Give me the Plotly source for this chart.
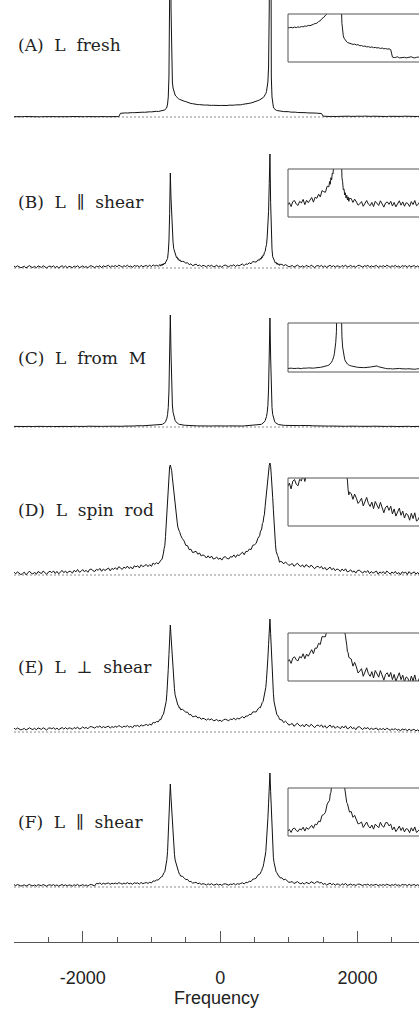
import numpy as np
import plotly.graph_objects as go

# Frequency sampling (Hz): 25 Hz steps, refined to 10 Hz across the two horns
freq = np.concatenate([
    np.arange(-3000, -899, 25),
    np.arange(-875, -574, 10),
    np.arange(-550, 551, 25),
    np.arange(575, 876, 10),
    np.arange(900, 2901, 25),
])

# Intensities (a.u.) for each sample
spec_a = [
    3, 2, 3, 4, 2, 3, 5, 4, 3, 2, 3, 4, 3, 5, 4, 2, 3, 4, 3, 3, 5, 4, 2, 3, 4, 3, 2, 1, 2, 3,
    4, 2, 3, 5, 4, 3, 4, 3, 2, 4, 5, 3, 4, 3, 2, 3, 4, 5, 4, 3, 4, 6, 5, 4, 3, 4, 5, 4, 3, 5, 6, 4,
    37, 40, 39, 41, 40, 43, 41, 44, 43, 45, 44, 47, 45, 48, 47, 50, 49, 52, 51, 54, 53, 57, 55,
    57, 60, 59, 62, 64, 65, 69, 72, 78, 85, 100, 130, 200, 400, 1200, 6000, 1100, 500, 350, 290,
    256, 235, 220, 209, 200, 193, 187, 182, 178, 174, 171,
    166, 158, 154, 146, 142, 135, 133, 128, 127, 124, 124, 121, 122, 119, 120, 117, 118, 116, 117, 115,
    116, 114, 115,
    116, 114, 117, 115, 118, 116, 119, 118, 121, 120, 123, 122, 126, 127, 130, 131, 137, 140, 148, 152,
    160, 164,
    171, 174, 178, 182, 187, 193, 200, 209, 220, 235, 256, 290, 350, 500, 1100, 6000, 1200, 400, 200, 130,
    100, 85, 77, 72, 68, 65, 63, 61, 60, 59, 58,
    57, 54, 55, 52, 53, 49, 50, 47, 48, 45, 46, 43, 45, 42, 43, 41, 42, 39, 41, 38, 39, 37, 38, 35,
    8, 6, 7, 9, 5, 6, 8, 7, 5, 6, 7, 9, 6, 5, 7, 8, 6, 4, 6, 7, 8, 6, 5, 7, 9, 7, 6, 5, 6, 8,
    7, 5, 6, 7, 8, 6, 4, 5, 7, 6, 8, 7, 5, 6, 7, 5, 6, 8, 7, 6, 5, 7, 6, 8, 6, 5, 7,
]

spec_b = [
    20, 8, 22, 14, 3, 9, 18, 1, 15, 24, 11, 5, 17, 2, 21, 13, 6, 23, 8, 0,
    15, 19, 10, 21, 4, 17, 1, 11, 23, 7, 19, 3, 16, 13, 2, 20, 9, 24, 5, 10,
    21, 7, 15, 1, 19, 22, 9, 4, 18, 11, 23, 3, 23, 12, 20, 27, 7, 22, 14, 25,
    11, 29, 19, 9, 23, 15, 28, 11, 21, 6, 26, 17, 24, 8, 27, 13, 19, 25, 14, 28,
    14, 31, 19, 27, 18,
    34, 19, 36, 25, 41, 30, 49, 40, 58, 55, 81, 95, 158, 270, 545, 950, 700, 470, 322, 258,
    193, 172, 135, 131, 104, 109, 86, 92, 73, 82, 66,
    66, 63, 48, 54, 33, 42, 23, 30, 39, 21, 31, 14, 26, 22, 10, 27, 16, 30, 11, 16, 27, 13, 21,
    7, 25, 29, 16, 11, 26, 20, 33, 14, 30, 21, 31, 40, 23, 41, 37, 52, 42, 65, 61, 59, 81,
    79, 98, 88, 112, 104, 129, 126, 158, 163, 207, 233, 308, 392, 566, 845, 1140, 655, 322, 187, 112,
    97, 68, 71, 49, 57, 38, 48, 31, 42, 26, 37,
    36, 22, 34, 24, 12, 17, 25, 8, 21, 29, 16, 10, 22, 7, 26, 18, 11, 28, 13, 5,
    20, 24, 15, 26, 9, 22, 6, 16, 28, 12, 24, 8, 21, 18, 7, 25, 14, 29, 10, 15,
    26, 12, 20, 6, 24, 27, 14, 9, 23, 16, 28, 8, 22, 11, 19, 26, 6, 21, 13, 24,
    10, 28, 18, 8, 22, 14, 27, 10, 20, 5, 25, 16, 23, 7, 26, 12, 18, 24, 9, 21, 6,
]

spec_c = [
    6, 5, 7, 6, 4, 6, 7, 5, 6, 8, 6, 5, 6, 7, 5, 4, 6, 7, 6, 5, 7, 8, 6, 5, 6, 7, 5, 6, 4, 6,
    7, 6, 5, 7, 6, 8, 7, 6, 5, 6, 7, 5, 6, 8, 7, 6, 5, 7, 6, 7, 8, 6, 7, 5, 6, 7, 8, 7, 6, 8,
    7, 6, 8, 7, 9, 8, 7, 8, 9, 8,
    10, 12, 14, 15, 13, 12, 13, 12, 13, 14, 14, 15, 16, 17, 19,
    21, 22, 24, 26, 29, 32, 37, 43, 52, 66, 88, 125, 195, 360, 700, 1120, 740, 390, 220, 148,
    108, 82, 66, 53, 45, 39, 34, 30, 27, 25, 23,
    20, 18, 17, 15, 14, 13, 12, 11, 12, 11, 10, 11, 10, 9, 11, 10, 9, 10, 11, 10, 9, 10, 10,
    11, 10, 9, 10, 11, 10, 9, 11, 10, 11, 12, 11, 10, 11, 12, 12, 13, 14, 15, 16, 18, 20,
    22, 24, 26, 29, 33, 38, 44, 52, 64, 80, 105, 145, 215, 380, 720, 1090, 700, 360, 195, 125,
    88, 66, 52, 43, 37, 32, 29, 26, 24, 22, 21,
    19, 17, 16, 15, 14, 13, 13, 13, 13, 13, 14, 15, 16, 17, 18, 19,
    16, 14, 12, 11, 10, 9, 10, 9, 8, 9, 8, 9, 10, 9, 8, 7, 8, 9, 8, 7,
    8, 7, 8, 9, 7, 8, 6, 7, 8, 7, 6, 7, 8, 6, 7, 6, 7, 8, 7, 6,
    5, 6, 7, 6, 5, 6, 7, 5, 6, 7, 6, 5, 6, 7, 5, 6, 5, 6, 7, 5, 6, 5, 6, 7, 6,
]

spec_d = [
    29, 11, 32, 21, 4, 14, 28, 2, 25, 38, 18, 10, 28, 7, 35, 24, 14, 40, 18, 7,
    29, 37, 23, 41, 15, 36, 12, 28, 46, 23, 40, 18, 38, 35, 19, 47, 31, 55, 28, 36,
    54, 33, 47, 27, 55, 60, 42, 35, 57, 47, 66, 37, 60, 45, 59, 70, 42, 66, 56, 73,
    54, 83, 70, 56, 79, 67, 89, 65, 81, 60, 92, 81, 93, 71, 102, 83, 93, 105, 84, 104,
    87, 120, 107, 123, 111,
    140, 156, 154, 157, 182, 219, 264, 294, 385, 490, 648, 774, 905, 995, 1084, 1100,
    1072, 1043, 972, 909, 825, 730, 652, 611, 574, 528, 479, 445, 438, 425, 398,
    364, 341, 297, 294, 253, 258, 224, 229, 237, 208, 220, 190, 201, 192, 170, 192, 170, 190, 160, 165,
    180, 157, 170,
    149, 177, 183, 166, 160, 184, 178, 201, 176, 202, 194, 213, 228, 203, 236, 234, 260, 254, 297, 302,
    317, 368,
    392, 432, 450, 460, 514, 526, 579, 607, 686, 760, 823, 925, 994, 1068, 1096, 1120,
    1086, 992, 910, 775, 652, 491, 395, 308, 238, 204, 196, 181, 146, 127, 137,
    132, 111, 130, 115, 96, 104, 115, 87, 107, 118, 96, 85, 101, 77, 103, 89, 77, 100, 76, 62,
    82, 87, 71, 86, 58, 76, 50, 63, 79, 53, 68, 43, 60, 54, 35, 60, 41, 62, 32, 37,
    52, 29, 41, 19, 45, 48, 28, 19, 39, 27, 44, 14, 34, 18, 29, 39, 8, 31, 18, 34,
    12, 40, 25, 9, 30, 17, 36, 11, 25, 3, 32, 19, 29, 5, 34, 13, 21, 31, 8, 26, 4,
]

spec_e = [
    38, 26, 40, 32, 21, 27, 36, 19, 33, 42, 31, 25, 37, 22, 41, 33, 26, 43, 28, 20,
    37, 41, 32, 43, 26, 39, 23, 33, 45, 29, 44, 28, 41, 38, 27, 45, 34, 49, 30, 35,
    51, 37, 46, 32, 51, 55, 43, 39, 54, 48, 61, 41, 55, 44, 52, 59, 39, 54, 46, 57,
    47, 65, 55, 45, 59, 51, 64, 47, 57, 42, 66, 58, 66, 52, 72, 60, 68, 76, 64, 79,
    69, 97, 91, 105, 102,
    128, 122, 147, 150, 172, 176, 208, 221, 268, 305, 386, 476, 626, 774, 935, 1070,
    962, 842, 688, 586, 490, 432, 372, 348, 305, 302, 268, 266, 240, 244, 222,
    228, 217, 198, 199, 172, 175, 152, 155, 161, 140, 147, 127, 137, 131, 118, 133, 120, 133, 113, 116,
    125, 110, 118,
    104, 123, 128, 117, 113, 129, 124, 139, 121, 138, 130, 142, 154, 139, 160, 159, 177, 173, 201, 201,
    201, 230,
    248, 242, 268, 271, 298, 305, 338, 352, 410, 446, 528, 604, 738, 875, 1025, 1130,
    985, 792, 628, 474, 386, 302, 268, 218, 206, 174, 170, 146, 144, 126, 124,
    120, 94, 108, 91, 69, 76, 85, 57, 77, 88, 67, 57, 74, 51, 78, 65, 54, 78, 56, 43,
    64, 70, 55, 71, 45, 64, 39, 53, 70, 45, 61, 37, 55, 50, 32, 58, 40, 62, 33, 39,
    56, 33, 45, 23, 49, 53, 33, 24, 44, 33, 45, 24, 38, 26, 33, 40, 19, 34, 25, 35,
    21, 38, 28, 17, 31, 22, 35, 17, 27, 11, 31, 21, 28, 11, 30, 15, 21, 26, 11, 22, 7,
]

spec_f = [
    23, 14, 25, 19, 10, 15, 22, 9, 20, 26, 16, 12, 21, 9, 23, 17, 13, 25, 14, 8,
    19, 22, 15, 24, 11, 21, 9, 17, 25, 13, 22, 11, 20, 18, 9, 23, 14, 26, 12, 15,
    24, 13, 20, 9, 22, 25, 15, 11, 37, 32, 41, 26, 38, 29, 36, 40, 27, 38, 32, 40,
    30, 43, 36, 29, 39, 32, 44, 31, 38, 27, 42, 36, 41, 29, 45, 34, 39, 45, 36, 47,
    40, 61, 58, 70, 70,
    90, 87, 103, 102, 120, 122, 146, 152, 186, 206, 274, 356, 504, 665, 864, 1030,
    896, 760, 606, 490, 392, 328, 270, 244, 202, 189, 160, 152, 131, 127, 109,
    107, 93, 73, 77, 54, 56, 39, 43, 47, 32, 39, 26, 33, 29, 19, 32, 22, 34, 20, 22,
    31, 20, 27,
    16, 29, 32, 23, 19, 29, 25, 35, 21, 34, 27, 36, 42, 31, 46, 44, 57, 55, 78, 81,
    89, 119,
    130, 133, 156, 162, 188, 201, 236, 262, 310, 356, 446, 536, 684, 838, 1004, 1140,
    956, 744, 546, 404, 296, 244, 196, 178, 151, 143, 124, 121, 105, 104, 90,
    92, 71, 78, 64, 47, 49, 54, 34, 46, 54, 39, 32, 43, 28, 46, 39, 33, 53, 40, 35,
    51, 52, 40, 46, 25, 36, 19, 28, 39, 23, 34, 18, 30, 27, 15, 33, 21, 36, 16, 21,
    29, 18, 25, 14, 27, 29, 19, 15, 25, 20, 29, 14, 25, 16, 23, 26, 12, 23, 17, 25,
    15, 28, 21, 14, 24, 17, 28, 15, 22, 11, 26, 20, 24, 12, 27, 16, 20, 25, 14, 23, 12,
]

spectra = [spec_a, spec_b, spec_c, spec_d, spec_e, spec_f]
panel_labels = ["(A) L fresh", "(B) L \u2225 shear", "(C) L from M",
                "(D) L spin rod", "(E) L \u22a5 shear", "(F) L \u2225 shear"]
tick_vals = [-2000, 0, 2000]
tick_text = ["-2000", "0", "2000"]

for s in spectra:
    assert len(s) == len(freq), len(s)

# ---- page geometry (pixels) ----
W, H = 419, 1009
PX_PER_HZ = 0.06871
X0_PX = 14                       # left end of the frequency axis
AXIS_PX = 942                    # vertical position of the frequency axis
baseline_px = [117, 268, 427, 575, 732, 887]
label_px = [45, 202, 358, 510, 667, 822]
inset_px = [(14, 62), (169, 217), (323, 372), (478, 526), (633, 681), (788, 836)]
inset_lo = [-10, -31, -3, 14, 40, 3]
INSET_LEFT_PX = 288
INSET_F0 = -20
UNITS_PER_PX = 10                # main panels: 10 a.u. per pixel
INSET_UNITS_PER_PX = 10 / 2.75   # insets: vertically expanded view


def py(px):
    return 1 - px / H


x_right = -3000 + (W - X0_PX) / PX_PER_HZ
inset_right = INSET_F0 + (W - INSET_LEFT_PX) / PX_PER_HZ

fig = go.Figure()
layout = {}
shapes = []
annotations = []

for i, (spec, b) in enumerate(zip(spectra, baseline_px)):
    n = i + 1
    yname = "y" if n == 1 else f"y{n}"
    top_px = max(0, b - 136)
    bot_px = b + 12
    layout[f"yaxis{n}"] = dict(
        domain=[py(bot_px), py(top_px)],
        range=[-(bot_px - b) * UNITS_PER_PX, (b - top_px) * UNITS_PER_PX],
        visible=False, fixedrange=True, anchor="x",
    )
    fig.add_trace(go.Scatter(
        x=freq, y=spec, xaxis="x", yaxis=yname, mode="lines",
        line=dict(color="#111111", width=1), hoverinfo="skip", showlegend=False,
    ))
    shapes.append(dict(
        type="line", xref="x", yref=yname, x0=-3000, x1=x_right, y0=0, y1=0,
        line=dict(color="#8a8a8a", width=1, dash="2px,2px"), layer="below",
    ))

    # inset: expanded view of the right-hand horn
    m = 7 + i
    t_px, b_px = inset_px[i]
    lo = inset_lo[i]
    layout[f"yaxis{m}"] = dict(
        domain=[py(b_px), py(t_px)],
        range=[lo, lo + (b_px - t_px) * INSET_UNITS_PER_PX],
        visible=False, fixedrange=True, anchor="x2",
    )
    fig.add_trace(go.Scatter(
        x=freq, y=spec, xaxis="x2", yaxis=f"y{m}", mode="lines",
        line=dict(color="#1a1a1a", width=1), hoverinfo="skip", showlegend=False,
    ))
    shapes.append(dict(
        type="rect", xref="paper", yref="paper",
        x0=INSET_LEFT_PX / W, x1=1.05, y0=py(b_px), y1=py(t_px),
        line=dict(color="#555555", width=1), fillcolor="rgba(0,0,0,0)", layer="above",
    ))

    annotations.append(dict(
        text=panel_labels[i].replace(" ", "\u00a0\u00a0"),
        xref="paper", yref="paper", x=16 / W, y=py(label_px[i]),
        xanchor="left", yanchor="middle", showarrow=False,
        font=dict(family="DejaVu Serif", size=17, color="#222222"),
    ))

axis_font = dict(family="Liberation Sans, Arial, sans-serif", size=18, color="#222222")
layout["xaxis"] = dict(
    domain=[X0_PX / W, 1], range=[-3000, x_right],
    anchor="free", position=py(AXIS_PX),
    showline=True, linecolor="#555555", linewidth=1,
    showgrid=False, zeroline=False, fixedrange=True,
    ticks="inside", ticklen=11, tickwidth=1, tickcolor="#555555",
    tickmode="array", tickvals=tick_vals, ticktext=tick_text,
    ticklabelstandoff=19,
    minor=dict(ticks="inside", ticklen=5, tickwidth=1, tickcolor="#555555",
               tickmode="linear", tick0=0, dtick=500, showgrid=False),
    tickfont=axis_font,
    title=dict(text="Frequency", standoff=4, font=axis_font),
)
layout["xaxis2"] = dict(
    domain=[INSET_LEFT_PX / W, 1], range=[INSET_F0, inset_right],
    visible=False, fixedrange=True, anchor="y7",
)

fig.update_layout(
    width=W, height=H,
    margin=dict(l=0, r=0, t=0, b=0, pad=0),
    paper_bgcolor="white", plot_bgcolor="rgba(0,0,0,0)",
    showlegend=False, shapes=shapes, annotations=annotations,
    **layout,
)

fig.write_html("out.html", config={"displayModeBar": False})
